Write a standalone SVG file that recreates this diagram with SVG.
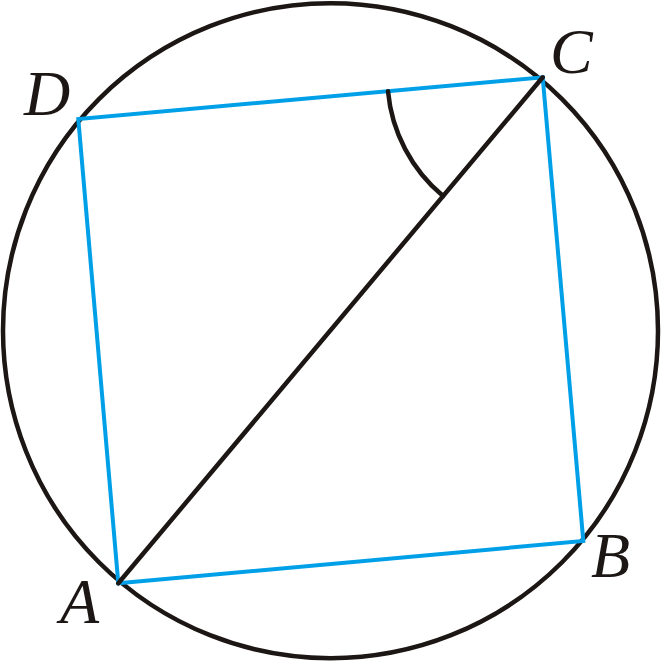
<svg xmlns="http://www.w3.org/2000/svg" width="662" height="662" viewBox="0 0 662 662">
<style>
.blk{fill:none;stroke:#1c1614;stroke-width:4.5;stroke-linecap:round;stroke-linejoin:round}
.blue{fill:none;stroke:#00a0e9;stroke-width:4;stroke-linejoin:miter}
.lbl{font-family:"Liberation Serif","Times New Roman",serif;font-style:italic;font-size:64px;fill:#1c1614}
</style>
<rect width="662" height="662" fill="#ffffff"/>
<g id="circle">
<circle class="blk" cx="330.5" cy="330.7" r="327.5"/>
</g>
<g id="connectors">
<polygon id="quad" class="blue" points="118.3,583.3 583.3,541 542.7,77.3 78.3,119"/>
<line id="diagonal" class="blk" x1="118.3" y1="583.3" x2="542.7" y2="77.3"/>
<path id="angle" class="blk" d="M388,91.2 A155.3,155.3 0 0 0 443.1,196.1"/>
</g>
<g id="A"><text class="lbl" x="60" y="623">A</text></g>
<g id="B"><text class="lbl" x="591" y="577">B</text></g>
<g id="C"><text class="lbl" x="550" y="73">C</text></g>
<g id="D"><text class="lbl" x="24" y="115">D</text></g>
</svg>
